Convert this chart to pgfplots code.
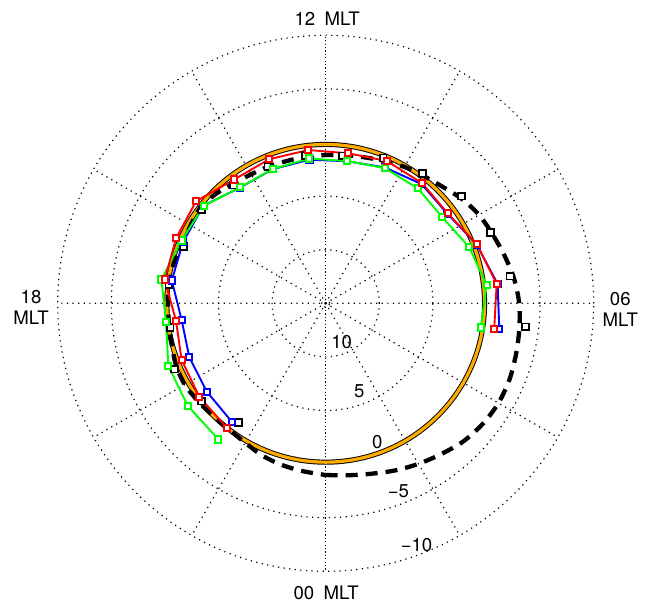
\documentclass[border=0pt]{standalone}
\usepackage{pgfplots}
\pgfplotsset{compat=1.18}
\usepgfplotslibrary{polar}
\usepackage{pgfplotstable}
\usepackage{fontspec}
\setmainfont{TeX Gyre Heros}

\definecolor{ringorange}{RGB}{255,172,0}

% Boundary position per MLT bin (values on the radial scale, 0 = reference ring)
\pgfplotstableread{
mlt val
5.43 -0.90
6.43 -1.05
7.42 -0.15
8.43 0.86
9.41 0.63
10.45 0.55
11.43 0.85
12.43 0.61
13.43 0.56
14.43 0.64
15.45 -0.39
16.43 -0.22
17.44 -0.18
18.44 0.94
19.43 0.56
20.43 0.34
21.45 0.16
}\redtab

\pgfplotstableread{
mlt val
5.44 -1.37
6.43 -1.14
7.42 -0.11
8.43 0.91
9.41 0.73
10.43 1.18
11.43 1.60
12.43 1.52
13.43 1.55
14.43 1.57
15.43 0.41
16.45 0.51
17.44 0.49
18.44 1.47
19.44 1.32
20.44 1.18
21.44 0.90
}\bluetab

\pgfplotstableread{
mlt val
5.41 0.35
6.43 -0.11
7.42 0.62
8.43 1.48
9.42 1.26
10.42 1.24
11.43 1.58
12.43 1.41
13.43 1.53
14.43 1.55
15.43 0.44
16.43 0.33
17.45 -0.49
18.44 0.00
19.45 -0.80
20.44 -1.03
21.45 -1.17
}\greentab

\pgfplotstableread{
mlt val
5.55 -3.75
6.56 -2.38
7.55 -1.74
8.55 -1.15
9.55 -0.13
10.56 0.42
11.57 1.15
12.53 1.10
13.53 1.15
14.53 1.01
15.53 0.52
16.55 0.71
17.55 0.26
18.59 0.31
19.57 -0.39
20.55 0.26
21.58 1.23
}\blacktab

% Model boundary, closed over 24 h
\pgfplotstableread{
mlt val
0.0 -1.02
0.5 -1.18
1.0 -1.46
1.5 -1.88
2.0 -2.30
2.5 -2.72
3.0 -3.19
3.5 -3.47
4.0 -3.61
4.5 -3.56
5.0 -3.38
5.5 -3.22
6.0 -3.05
6.5 -2.72
7.0 -2.26
7.5 -1.84
8.0 -1.51
8.5 -1.00
9.0 -0.39
9.5 0.03
10.0 0.31
10.5 0.63
11.0 0.91
11.5 1.05
12.0 1.17
12.5 1.20
13.0 1.24
13.5 1.17
14.0 1.10
14.5 0.91
15.0 0.54
15.5 0.30
16.0 0.45
16.5 0.55
17.0 0.35
17.5 0.27
18.0 0.28
18.5 0.26
19.0 0.14
19.5 -0.11
20.0 -0.18
20.5 0.00
21.0 0.14
21.5 0.17
22.0 -0.02
22.5 -0.39
23.0 -0.63
23.5 -0.81
24.0 -1.02
}\modeltab

\begin{document}
\begin{tikzpicture}
\begin{polaraxis}[
  scale only axis,
  width=536pt, height=536pt,
  ymin=0, ymax=25,
  xtick={0,30,60,120,150,180,210,240,300,330},
  ytick={0.37,5,10,20,25},
  xticklabels={}, yticklabels={},
  grid=major,
  major grid style={black, line width=1.2pt, dash pattern=on 1.2pt off 4.4pt},
  extra x ticks={90,270},
  extra x tick labels={},
  extra x tick style={grid=major, major grid style={black, line width=1.2pt, dash pattern=on 1.2pt off 2.2pt}},
  extra y ticks={14.82},
  extra y tick labels={},
  extra y tick style={grid=major, major grid style={draw=black, line width=0.95pt, double=ringorange, double distance=3.2pt, solid}},
  axis line style={draw=none},
  tick style={draw=none},
  clip=false,
  font=\fontsize{18.6}{21}\selectfont,
]
\coordinate (O) at (axis cs:0,0);

% model boundary
\addplot[black, line width=4.3pt, dash pattern=on 12pt off 8pt, smooth, no markers]
  table[x expr={(\thisrow{mlt}-6)*15}, y expr={15-\thisrow{val}}] {\modeltab};
% reference points
\addplot[only marks, mark=square*, mark size=3.4pt,
  mark options={draw=black, fill=white, line width=1.7pt}]
  table[x expr={(\thisrow{mlt}-6)*15}, y expr={15-\thisrow{val}}] {\blacktab};

\addplot[blue, line width=1.9pt, mark=square*, mark size=3.1pt,
  mark options={solid, draw=blue, fill=white, line width=2pt}]
  table[x expr={(\thisrow{mlt}-6)*15}, y expr={15-\thisrow{val}}] {\bluetab};
\addplot[green, line width=1.9pt, mark=square*, mark size=3.1pt,
  mark options={solid, draw=green, fill=white, line width=2pt}]
  table[x expr={(\thisrow{mlt}-6)*15}, y expr={15-\thisrow{val}}] {\greentab};
\addplot[red, line width=1.9pt, mark=square*, mark size=3.1pt,
  mark options={solid, draw=red, fill=white, line width=2pt}]
  table[x expr={(\thisrow{mlt}-6)*15}, y expr={15-\thisrow{val}}] {\redtab};

% MLT labels
\node[inner sep=0pt] at (axis cs:89.7,26.59) {12\hspace{0.5em}MLT};
\node[inner sep=0pt] at (axis cs:-89.9,27.02) {00\hspace{0.5em}MLT};
\node[inner sep=0pt, align=center] at (axis cs:180.8,27.49) {18\\MLT};
\node[inner sep=0pt, align=center] at (axis cs:-1.1,27.49) {06\\MLT};

% radial scale labels
\node[inner sep=0pt] at (axis cs:-67.4,3.88) {10};
\node[inner sep=0pt] at (axis cs:-69.2,8.82) {5};
\node[inner sep=0pt] at (axis cs:-69.55,13.78) {0};
\node[inner sep=0pt] at (axis cs:-68.9,18.83) {−5};
\node[inner sep=0pt] at (axis cs:-69.4,24.09) {−10};
\end{polaraxis}
\pgfresetboundingbox
\path (O) ++(-325.7pt,303.3pt) rectangle ++(649pt,-604pt);
\end{tikzpicture}
\end{document}
